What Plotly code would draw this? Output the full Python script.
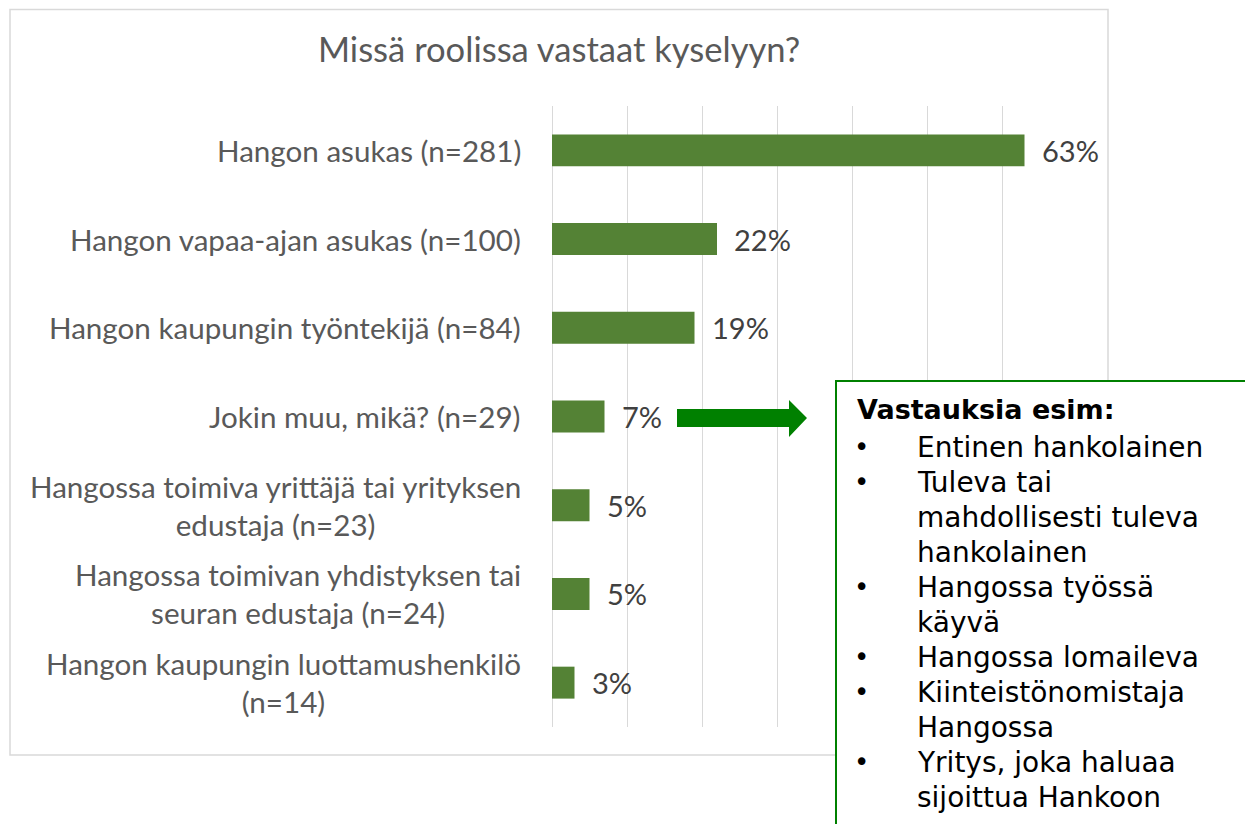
import plotly.graph_objects as go

# ---------------- data ----------------
categories = [
    "Hangon asukas (n=281)",
    "Hangon vapaa-ajan asukas (n=100)",
    "Hangon kaupungin työntekijä (n=84)",
    "Jokin muu, mikä? (n=29)",
    "Hangossa toimiva yrittäjä tai yrityksen<br>edustaja (n=23)",
    "Hangossa toimivan yhdistyksen tai<br>seuran edustaja (n=24)",
    "Hangon kaupungin luottamushenkilö<br>(n=14)",
]
values = [63, 22, 19, 7, 5, 5, 3]
value_labels = ["63%", "22%", "19%", "7%", "5%", "5%", "3%"]

title_text = "Missä roolissa vastaat kyselyyn?"
box_title = "Vastauksia esim:"
# (has_bullet, text)
box_lines = [
    (True, "Entinen hankolainen"),
    (True, "Tuleva tai"),
    (False, "mahdollisesti tuleva"),
    (False, "hankolainen"),
    (True, "Hangossa työssä"),
    (False, "käyvä"),
    (True, "Hangossa lomaileva"),
    (True, "Kiinteistönomistaja"),
    (False, "Hangossa"),
    (True, "Yritys, joka haluaa"),
    (False, "sijoittua Hankoon"),
]

# ---------------- layout geometry (page pixels) ----------------
OFF = 8                      # page body margin
W, H = 1253 - OFF, 824 - OFF
L, R, T, B = 552, 1077, 106, 727  # plot area in page pixels


def px(x):
    return (x - L) / (R - L)


def py(y):
    return 1 - (y - T) / (B - T)


BAR = "#548235"
GRID = "#d9d9d9"
LABEL = "#595959"
DLABEL = "#404040"
FONT = "Lato"
BOXFONT = "DejaVu Sans"

fig = go.Figure()
fig.add_trace(go.Bar(
    x=values, y=categories, orientation="h",
    marker=dict(color=BAR, line=dict(width=0)),
    width=0.36, hoverinfo="skip",
))

annotations = []
# category labels (centered multi-line, right edge near axis)
for c in categories:
    annotations.append(dict(
        x=0, xref="paper", y=c, yref="y", text=c, showarrow=False,
        xanchor="right", yanchor="middle", align="center", xshift=-29,
        font=dict(family=FONT, size=29.6, color=LABEL),
    ))
# value labels
for c, v, t in zip(categories, values, value_labels):
    annotations.append(dict(
        x=v, xref="x", y=c, yref="y", text=t, showarrow=False,
        xanchor="left", yanchor="middle", xshift=15,
        font=dict(family=FONT, size=29, color=DLABEL),
    ))
# title
annotations.append(dict(
    x=px(559), xref="paper", y=py(48), yref="paper", text=title_text,
    showarrow=False, xanchor="center", yanchor="middle",
    font=dict(family=FONT, size=34.6, color=LABEL),
))
# text box content
annotations.append(dict(
    x=px(855), xref="paper", y=py(410), yref="paper",
    text="<b>" + box_title + "</b>", showarrow=False,
    xanchor="left", yanchor="middle",
    font=dict(family=BOXFONT, size=27, color="#000000"),
))
for i, (bul, t) in enumerate(box_lines):
    yy = 447 + 35 * i
    if bul:
        annotations.append(dict(
            x=px(861), xref="paper", y=py(yy), yref="paper", text="•",
            showarrow=False, xanchor="center", yanchor="middle",
            font=dict(family=BOXFONT, size=26, color="#000000"),
        ))
    annotations.append(dict(
        x=px(915), xref="paper", y=py(yy), yref="paper", text=t,
        showarrow=False, xanchor="left", yanchor="middle",
        font=dict(family=BOXFONT, size=28, color="#000000"),
    ))

shapes = [
    # chart border
    dict(type="rect", xref="paper", yref="paper",
         x0=px(10), x1=px(1108), y0=py(755), y1=py(9.5),
         line=dict(color=GRID, width=1.5), fillcolor="rgba(0,0,0,0)", layer="below"),
    # text box
    dict(type="rect", xref="paper", yref="paper",
         x0=px(836), x1=px(1262), y0=py(832), y1=py(381),
         line=dict(color="#008000", width=2), fillcolor="#ffffff", layer="above"),
]
# arrow polygon
pts = [(677, 409), (789, 409), (789, 400), (807, 418), (789, 437), (789, 427), (677, 427)]
path = "M " + " L ".join(f"{px(a):.5f},{py(b):.5f}" for a, b in pts) + " Z"
shapes.append(dict(type="path", xref="paper", yref="paper", path=path,
                   fillcolor="#008000", line=dict(color="#008000", width=0)))

fig.update_layout(
    width=W, height=H,
    margin=dict(l=L - OFF, r=(W + OFF) - R, t=T - OFF, b=(H + OFF) - B, pad=0),
    paper_bgcolor="#ffffff", plot_bgcolor="#ffffff",
    showlegend=False,
    xaxis=dict(range=[0, 70], dtick=10, showgrid=True, gridcolor=GRID, gridwidth=1,
               zeroline=True, zerolinecolor=GRID, zerolinewidth=1,
               showticklabels=False, ticks="", showline=False, fixedrange=True),
    yaxis=dict(categoryorder="array", categoryarray=categories[::-1],
               showticklabels=False, ticks="", showgrid=False, zeroline=False,
               showline=False),
    annotations=annotations,
    shapes=shapes,
)

fig.write_html("out.html")
